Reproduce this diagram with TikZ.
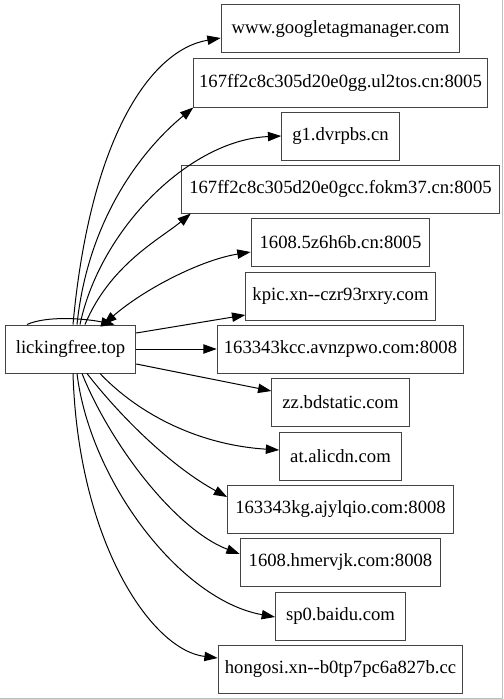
\documentclass[tikz,border=0pt]{standalone}
\usepackage{fontspec}
\setmainfont{Liberation Serif}
\usepackage{tikz}
\usetikzlibrary{arrows.meta,positioning,calc}
\definecolor{boxgray}{RGB}{68,68,68}
\definecolor{pagegray}{RGB}{190,190,190}

\tikzset{
  host/.style={draw=boxgray, line width=0.75pt, rectangle, minimum height=36pt,
    inner xsep=7.92pt, font=\fontsize{14pt}{16pt}\selectfont},
  link/.style={-{Triangle[length=10pt,width=7pt]}, line width=0.75pt},
  both/.style={{Triangle[length=10pt,width=7pt]}-{Triangle[length=10pt,width=7pt]}, line width=0.75pt}
}

\begin{document}
\begin{tikzpicture}[x=0.75pt, y=-0.75pt]
  \useasboundingbox (0,0) rectangle (503,699);
  % Page edge
  \draw[pagegray, line width=0.75pt] (502.5,0) -- (502.5,698.5) -- (0,698.5);
  % Source
  \node[host] (lf) at (70.5,349) {lickingfree.top};
  % Targets
  \node[host] (gtm) at (340.5,29) {www.googletagmanager.com};
  \node[host, inner xsep=4pt] (ul2) at (340.5,83) {167ff2c8c305d20e0gg.ul2tos.cn:8005};
  \node[host] (g1) at (340.5,136) {g1.dvrpbs.cn};
  \node[host, inner xsep=6pt] (fok) at (340.5,189) {167ff2c8c305d20e0gcc.fokm37.cn:8005};
  \node[host, inner xsep=6.4pt] (z6) at (340.5,242) {1608.5z6h6b.cn:8005};
  \node[host, inner xsep=5pt] (kpic) at (340.5,296) {kpic.xn-{}-czr93rxry.com};
  \node[host, inner xsep=5pt] (kcc) at (340.5,349) {163343kcc.avnzpwo.com:8008};
  \node[host] (zz) at (340.5,402) {zz.bdstatic.com};
  \node[host] (ali) at (340.5,456) {at.alicdn.com};
  \node[host, inner xsep=5.7pt] (kg) at (340.5,509) {163343kg.ajylqio.com:8008};
  \node[host, inner xsep=6.4pt] (hm) at (340.5,562) {1608.hmervjk.com:8008};
  \node[host] (sp0) at (340.5,616) {sp0.baidu.com};
  \node[host, inner xsep=5pt] (hg) at (340.5,669) {hongosi.xn-{}-b0tp7pc6a827b.cc};
  % Upper edges
  \draw[link] ($(lf.north)+(2.5,0)$) .. controls +(17,-185) and +(-71,12) .. ($(gtm.west)+(0,9)$);
  \draw[link] ($(lf.north)+(6.5,0)$) .. controls +(11,-105) and +(-52,43) .. ($(ul2.south west)+(0,0)$);
  \draw[link] ($(lf.north)+(9.5,0)$) .. controls +(20,-95) and +(-92,4) .. (g1.west);
  \draw[link] ($(lf.north)+(14.5,0)$) .. controls +(25,-60) and +(-30,25) .. ($(fok.south west)+(10,0)$);
  \draw[both] ($(lf.north)+(33,0)$) .. controls +(40,-35) and +(-50,8) .. ($(z6.west)+(0,10)$);
  % Self loop
  \draw[link] ($(lf.north)+(-43.5,0)$) .. controls +(20,-9) and +(-30,-6) .. ($(lf.north)+(44,0)$);
  % Side edges
  \draw[link] ($(lf.east)+(0,-16)$) -- ($(kpic.west)+(0,19)$);
  \draw[link] (lf.east) -- (kcc.west);
  \draw[link] ($(lf.east)+(0,15)$) -- ($(zz.west)+(0,-11)$);
  % Lower edges
  \draw[link] ($(lf.south)+(29.5,0)$) .. controls +(40,42) and +(-79,-5) .. ($(ali.west)+(0,-6)$);
  \draw[link] ($(lf.south)+(16.5,0)$) .. controls +(35,45) and +(-55,-30) .. ($(kg.west)+(0,-12)$);
  \draw[link] ($(lf.south)+(11.5,0)$) .. controls +(28,70) and +(-65,-25) .. ($(hm.west)+(0,-8)$);
  \draw[link] ($(lf.south)+(6.5,0)$) .. controls +(13,107) and +(-95,-17) .. ($(sp0.west)+(0,1)$);
  \draw[link] ($(lf.south)+(2.5,0)$) .. controls +(5,167) and +(-67,-8) .. ($(hg.west)+(0,-11)$);
\end{tikzpicture}
\end{document}
